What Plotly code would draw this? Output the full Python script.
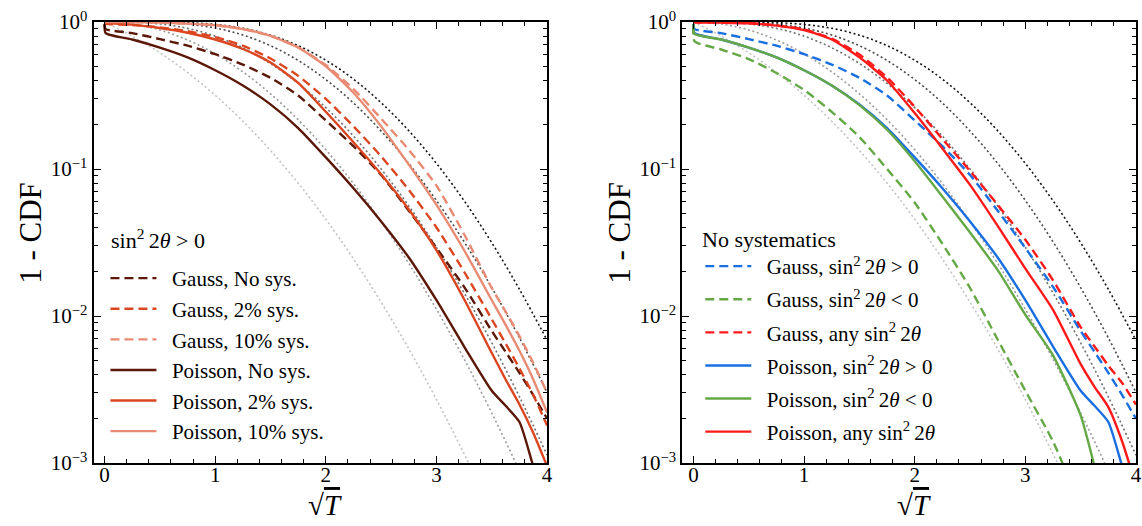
import plotly.graph_objects as go

# ---------------- data ----------------
# common abscissa sqrt(T) for the simulated distributions
X = [0, 0.01, 0.25, 0.5, 0.75, 1.0, 1.25, 1.5, 1.75, 2.0, 2.25, 2.5, 2.75,
     3.0, 3.25, 3.5, 3.625, 3.75, 3.875, 4.0]

# left panel: sin^2 2theta > 0
gauss_nosys = [0.96, 0.895, 0.84, 0.765, 0.69, 0.605, 0.513, 0.417, 0.316, 0.214,
               0.143, 0.091, 0.052, 0.029, 0.0158, 0.0079, 0.0057, 0.0041, 0.0029, 0.002]
gauss_2 = [0.99, 0.975, 0.955, 0.92, 0.865, 0.79, 0.69, 0.565, 0.43, 0.30,
           0.195, 0.122, 0.072, 0.040, 0.020, 0.0095, 0.0065, 0.0044, 0.0029, 0.0018]
gauss_10 = [1.0, 1.0, 0.998, 0.99, 0.975, 0.95, 0.895, 0.805, 0.672, 0.51,
            0.35, 0.22, 0.135, 0.077, 0.036, 0.0155, 0.0107, 0.0073, 0.0048, 0.003]
poisson_nosys = [0.97, 0.84, 0.76, 0.67, 0.575, 0.47, 0.37, 0.275, 0.19, 0.12,
                 0.074, 0.044, 0.025, 0.0128, 0.0062, 0.0031, 0.00245, 0.0019, 0.00095, 0.0005]
poisson_2 = [1.0, 0.985, 0.96, 0.91, 0.845, 0.76, 0.655, 0.53, 0.385, 0.245,
             0.152, 0.092, 0.053, 0.028, 0.013, 0.0056, 0.0037, 0.0025, 0.0016, 0.00095]
poisson_10 = [1.0, 1.0, 0.998, 0.99, 0.975, 0.95, 0.895, 0.805, 0.67, 0.50,
              0.33, 0.195, 0.107, 0.057, 0.028, 0.0128, 0.0087, 0.0058, 0.0037, 0.0022]

# right panel: no systematics
gauss_pos = gauss_nosys
gauss_neg = [0.95, 0.74, 0.65, 0.56, 0.45, 0.345, 0.245, 0.165, 0.10, 0.059,
             0.031, 0.0155, 0.0069, 0.0031, 0.0014, 0.0005, None, None, None, None]
gauss_any = [1.0, 0.995, 0.99, 0.98, 0.948, 0.89, 0.77, 0.60, 0.42, 0.265,
             0.16, 0.097, 0.057, 0.033, 0.0175, 0.0084, 0.0062, 0.0046, 0.0035, 0.0025]
poisson_pos = poisson_nosys
poisson_neg = [0.97, 0.83, 0.76, 0.67, 0.575, 0.47, 0.37, 0.272, 0.185, 0.113,
               0.065, 0.037, 0.0205, 0.0102, 0.0054, 0.0021, 0.00095, 0.0004, None, None]
poisson_any = [1.0, 0.995, 0.99, 0.98, 0.945, 0.88, 0.76, 0.575, 0.40, 0.24,
               0.138, 0.078, 0.041, 0.021, 0.011, 0.0047, 0.0033, 0.0024, 0.0014, 0.0007]

# dotted reference curves (chi^2 with 1..5 d.o.f.)
XD = [0, 0.25, 0.5, 0.75, 1.0, 1.25, 1.5, 1.75, 2.0, 2.25, 2.5, 2.75, 3.0,
      3.25, 3.5, 3.75, 4.0]
chi2_1 = [1, 0.8026, 0.6171, 0.4533, 0.3173, 0.2113, 0.1336, 0.0801, 0.0455,
          0.02445, 0.01242, 0.00596, 0.0027, 0.001154, 0.000465, 0.000177, 0.000063]
chi2_2 = [1, 0.9692, 0.8825, 0.7548, 0.6065, 0.4578, 0.3247, 0.2163, 0.1353,
          0.0796, 0.0439, 0.02279, 0.01111, 0.00509, 0.002187, 0.000884, 0.000335]
chi2_3 = [1, 0.9959, 0.9692, 0.9050, 0.8012, 0.6679, 0.5222, 0.3821, 0.2614,
          0.1674, 0.0999, 0.0560, 0.0293, 0.01435, 0.00657, 0.00282, 0.00113]
chi2_4 = [1, 0.9995, 0.9928, 0.9671, 0.9098, 0.8155, 0.6900, 0.5475, 0.4060,
          0.2811, 0.1811, 0.1090, 0.0611, 0.03197, 0.01558, 0.0071, 0.00302]
chi2_5 = [1, 0.9999, 0.9985, 0.9897, 0.9625, 0.9057, 0.8137, 0.6904, 0.5493,
          0.4085, 0.2823, 0.1821, 0.1091, 0.0608, 0.0315, 0.0152, 0.00683]

y_tickvals = [1e-3, 1e-2, 1e-1, 1]
y_ticktext = ["10<sup>\u22123</sup>", "10<sup>\u22122</sup>", "10<sup>\u22121</sup>", "10<sup>0</sup>"]
x_tickvals = [0, 1, 2, 3, 4]

# ---------------- styling ----------------
FONT = "Liberation Serif, Times New Roman, serif"
DARK = "#5b1708"
MID = "#db4620"
LIGHT = "#e98a72"
BLUE = "#1a6fe0"
GREEN = "#65a846"
RED = "#ff1a1a"
DOT_COLORS = ["#c3c3c3", "#9c9c9c", "#707070", "#4a4a4a", "#151515"]
DASH = "9px,5px"
SP = "\u2002"
W = 1142.0
PH = 441.0  # plot height in px (526 - 22 - 63)

fig = go.Figure()

for xa, ya in (("x", "y"), ("x2", "y2")):
    for col, vals in zip(DOT_COLORS, [chi2_1, chi2_2, chi2_3, chi2_4, chi2_5]):
        fig.add_trace(go.Scatter(x=XD, y=vals, mode="lines", xaxis=xa, yaxis=ya,
                                 line=dict(color=col, width=1.6, dash="2px,2.6px", shape="spline"),
                                 showlegend=False, hoverinfo="skip"))

left = [
    (gauss_nosys, DARK, DASH, "Gauss, No sys."),
    (gauss_2, MID, DASH, "Gauss, 2% sys."),
    (gauss_10, LIGHT, DASH, "Gauss, 10% sys."),
    (poisson_nosys, DARK, "solid", "Poisson, No sys."),
    (poisson_2, MID, "solid", "Poisson, 2% sys."),
    (poisson_10, LIGHT, "solid", "Poisson, 10% sys."),
]
for i, (vals, col, dash, name) in enumerate(left):
    fig.add_trace(go.Scatter(x=X, y=vals, mode="lines", xaxis="x", yaxis="y",
                             line=dict(color=col, width=2.4, dash=dash, shape="spline", smoothing=0.6),
                             name=SP + name, legend="legend", legendgroup="L%d" % i))

S = "sin<sup>2</sup>\u20092<i>\u03b8</i>"
right = [
    (gauss_pos, BLUE, DASH, "Gauss, " + S + " &gt; 0"),
    (gauss_neg, GREEN, DASH, "Gauss, " + S + " &lt; 0"),
    (gauss_any, RED, DASH, "Gauss, any " + S),
    (poisson_pos, BLUE, "solid", "Poisson, " + S + " &gt; 0"),
    (poisson_neg, GREEN, "solid", "Poisson, " + S + " &lt; 0"),
    (poisson_any, RED, "solid", "Poisson, any " + S),
]
for i, (vals, col, dash, name) in enumerate(right):
    fig.add_trace(go.Scatter(x=X, y=vals, mode="lines", xaxis="x2", yaxis="y2",
                             line=dict(color=col, width=2.4, dash=dash, shape="spline", smoothing=0.6),
                             name=SP + name, legend="legend2", legendgroup="R%d" % i))

common_x = dict(range=[-0.1, 4.0], tickvals=x_tickvals, ticks="inside", ticklen=7, tickwidth=1.3,
                tickcolor="black", showline=True, linewidth=2, linecolor="black", mirror="allticks",
                showgrid=False, zeroline=False, tickfont=dict(family=FONT, size=21, color="black"),
                ticklabelstandoff=-8,
                minor=dict(ticks="inside", ticklen=4, tickwidth=1, dtick=0.2, tick0=0,
                           tickcolor="black", showgrid=False))
common_y = dict(type="log", range=[-3, 0], tickmode="array", tickvals=y_tickvals, ticktext=y_ticktext,
                ticks="inside", ticklen=7, tickwidth=1.3, tickcolor="black", showline=True,
                linewidth=2, linecolor="black", mirror="allticks", showgrid=False, zeroline=False,
                tickfont=dict(family=FONT, size=21, color="black"),
                minor=dict(ticks="inside", ticklen=4, tickwidth=1, dtick="D1", tickcolor="black",
                           showgrid=False))

legend_common = dict(font=dict(family=FONT, size=21, color="black"), bgcolor="rgba(0,0,0,0)",
                     borderwidth=0, traceorder="grouped", itemwidth=46,
                     xanchor="left", yanchor="top", itemclick=False)


def py(pix):
    """paper y from a pixel row measured from the top of the figure"""
    return (463.0 - pix) / PH


annotations = []
SQRT_T = "\u221a<span style='text-decoration:overline'><i>T</i></span>"
for cx in (327, 919):
    annotations.append(dict(x=cx / W, y=py(505), xref="paper", yref="paper", text=SQRT_T,
                            showarrow=False, xanchor="center", yanchor="middle",
                            font=dict(family=FONT, size=29, color="black")))
for cx in (30, 622):
    annotations.append(dict(x=cx / W, y=py(233), xref="paper", yref="paper", text="1 - CDF",
                            showarrow=False, xanchor="center", yanchor="middle", textangle=-90,
                            font=dict(family=FONT, size=31, color="black")))
annotations.append(dict(x=110 / W, y=py(239), xref="paper", yref="paper", text=S + " &gt; 0",
                        showarrow=False, xanchor="left", yanchor="middle",
                        font=dict(family=FONT, size=22, color="black")))
annotations.append(dict(x=704 / W, y=py(239), xref="paper", yref="paper", text="No systematics",
                        showarrow=False, xanchor="left", yanchor="middle",
                        font=dict(family=FONT, size=22, color="black")))

fig.update_layout(
    width=1142, height=526,
    margin=dict(l=0, r=0, t=22, b=63),
    paper_bgcolor="white", plot_bgcolor="white",
    font=dict(family=FONT, color="black"),
    xaxis=dict(domain=[94 / W, 550 / W], anchor="y", **common_x),
    yaxis=dict(domain=[0, 1], anchor="x", **common_y),
    xaxis2=dict(domain=[686 / W, 1.0], anchor="y2", **common_x),
    yaxis2=dict(domain=[0, 1], anchor="x2", **common_y),
    legend=dict(x=106 / W, y=py(258), tracegroupgap=0.3, **legend_common),
    legend2=dict(x=704 / W, y=py(246), tracegroupgap=2.8, **legend_common),
    annotations=annotations,
    showlegend=True,
    hovermode=False,
)

fig.write_html("out.html", config={"displayModeBar": False, "staticPlot": False},
               post_script="document.body.style.margin='0';document.body.style.overflow='hidden';")
